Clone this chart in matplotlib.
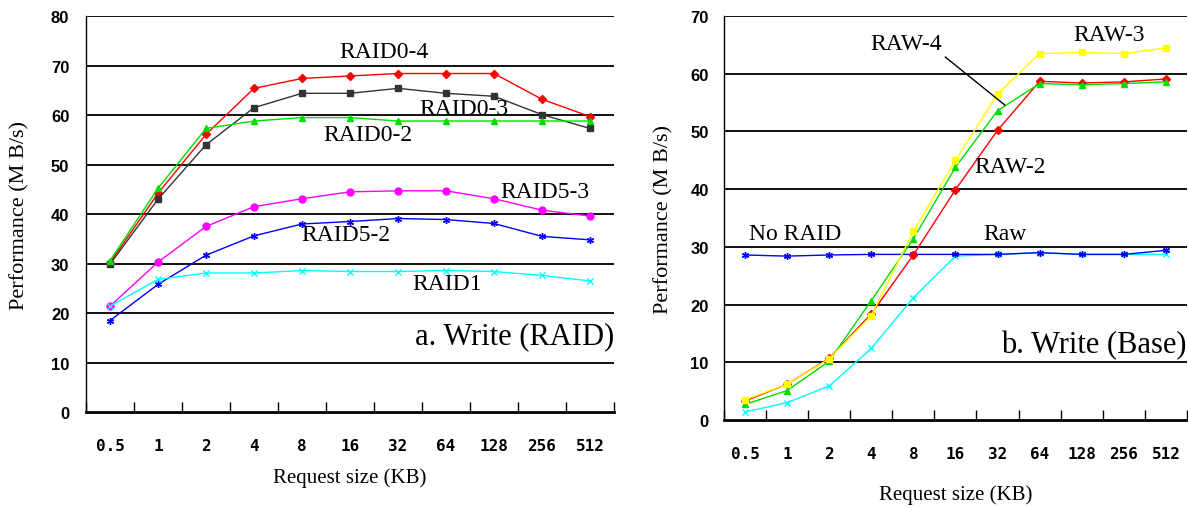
import matplotlib
matplotlib.use("Agg")
import matplotlib.pyplot as plt
import numpy as np

sizes = ["0.5", "1", "2", "4", "8", "16", "32", "64", "128", "256", "512"]

# a. Write (RAID)
raid0_4 = [30.2, 44.2, 56.1, 65.4, 67.4, 67.9, 68.4, 68.4, 68.4, 63.2, 59.7]
raid0_3 = [29.9, 43.0, 54.0, 61.5, 64.4, 64.4, 65.4, 64.4, 63.8, 60.1, 57.3]
raid0_2 = [30.6, 45.2, 57.3, 58.8, 59.5, 59.5, 58.8, 58.8, 58.8, 58.8, 58.8]
raid5_3 = [21.4, 30.3, 37.5, 41.5, 43.1, 44.5, 44.7, 44.7, 43.1, 40.8, 39.6]
raid5_2 = [18.5, 25.8, 31.7, 35.6, 38.0, 38.5, 39.1, 38.9, 38.1, 35.5, 34.8]
raid1 = [21.4, 26.8, 28.1, 28.1, 28.6, 28.4, 28.4, 28.6, 28.4, 27.6, 26.5]

# b. Write (Base)
raw_3 = [3.5, 6.2, 10.6, 18.1, 32.7, 45.0, 56.5, 63.5, 63.7, 63.5, 64.5]
raw_2 = [3.3, 6.2, 10.7, 18.4, 28.6, 39.9, 50.2, 58.7, 58.4, 58.6, 59.1]
raw_4 = [2.7, 5.1, 10.2, 20.7, 31.4, 43.8, 53.6, 58.3, 58.1, 58.3, 58.6]
no_raid = [28.6, 28.4, 28.6, 28.7, 28.7, 28.7, 28.7, 29.0, 28.7, 28.7, 29.4]
raw = [1.4, 3.0, 5.9, 12.4, 21.2, 28.4, 28.7, 29.0, 28.7, 28.7, 28.7]

serif = "Liberation Serif"
x = np.arange(len(sizes))

fig = plt.figure(figsize=(11.88, 5.1), dpi=100)
ax1 = fig.add_axes([0.0724, 0.190, 0.4444, 0.7765])
ax2 = fig.add_axes([0.6094, 0.1745, 0.3897, 0.792])


def style(ax, ymax, xlab_y, ylab_x, ypad):
    ax.set_xlim(-0.5, len(sizes) - 0.5)
    ax.set_ylim(0, ymax)
    ax.set_yticks(np.arange(0, ymax + 1, 10))
    for v in np.arange(10, ymax + 1, 10):
        ax.axhline(v, color="#111111", lw=1.4, zorder=0)
    for s in ["top", "right"]:
        ax.spines[s].set_visible(False)
    ax.spines["left"].set_linewidth(1.0)
    ax.spines["bottom"].set_linewidth(2.0)
    ax.set_xticks(x)
    ax.set_xticklabels(sizes, family="DejaVu Sans Mono", weight="bold", fontsize=11.5)
    ax.set_xticks(np.arange(-0.5, len(sizes), 1), minor=True)
    ax.tick_params(axis="x", which="major", length=0, pad=19)
    ax.tick_params(axis="x", which="minor", length=7, direction="in", width=1)
    ax.tick_params(axis="y", length=0, pad=ypad)
    for t in ax.get_yticklabels():
        t.set_family("Liberation Sans")
        t.set_weight("bold")
        t.set_fontsize(12)
    ax.set_xlabel("Request size (KB)", family=serif, fontsize=15, va="center")
    ax.xaxis.set_label_coords(0.5, xlab_y)
    ax.set_ylabel("Performance (M B/s)", family=serif, fontsize=16, va="center")
    ax.yaxis.set_label_coords(ylab_x, 0.5)


style(ax1, 80, -0.164, -0.125, 12)
style(ax2, 70, -0.183, -0.13, 11)

kw = dict(lw=1, ms=5, zorder=3)
ax1.plot(x, raid0_4, color="red", marker="D", ms=4.5, lw=1, zorder=3)
ax1.plot(x, raid0_3, color="#333333", marker="s", ms=4.5, lw=1, zorder=3)
ax1.plot(x, raid0_2, color="#00dd00", marker="^", **kw)
ax1.plot(x, raid5_3, color="magenta", marker="o", **kw)
ax1.plot(x, raid5_2, color="blue", marker=(6, 2, 0), mew=1, **kw)
ax1.plot(x, raid1, color="cyan", marker="x", mew=1, **kw)

tk = dict(family=serif, fontsize=17, ha="center", va="center")
ax1.text(5.7, 72.8, "RAID0-4", **tk)
ax1.text(7.38, 61.3, "RAID0-3", **tk)
ax1.text(5.38, 56.0, "RAID0-2", **tk)
ax1.text(9.07, 44.6, "RAID5-3", **tk)
ax1.text(4.91, 35.9, "RAID5-2", **tk)
ax1.text(7.03, 25.9, "RAID1", **tk)
ax1.text(10.5, 15.5, "a. Write (RAID)", family=serif, fontsize=22, ha="right", va="center")

ax2.plot(x, raw, color="cyan", marker="x", mew=1, **kw)
ax2.plot(x, no_raid, color="blue", marker=(6, 2, 0), mew=1, **kw)
ax2.plot(x, raw_2, color="red", marker="D", ms=4.5, lw=1, zorder=3)
ax2.plot(x, raw_4, color="#00dd00", marker="^", **kw)
ax2.plot(x, raw_3, color="#ffff00", marker="s", ms=5, lw=1, zorder=3)

ax2.text(3.83, 65.3, "RAW-4", **tk)
ax2.text(8.64, 66.8, "RAW-3", **tk)
ax2.text(6.3, 43.9, "RAW-2", **tk)
ax2.text(1.2, 32.4, "No RAID", **tk)
ax2.text(6.17, 32.4, "Raw", **tk)
ax2.plot([4.76, 6.17], [62.9, 54.6], color="black", lw=1, zorder=4)
ax2.text(10.5, 13.1, "b. Write (Base)", family=serif, fontsize=22, ha="right", va="center")

fig.savefig("out.png", dpi=100)
